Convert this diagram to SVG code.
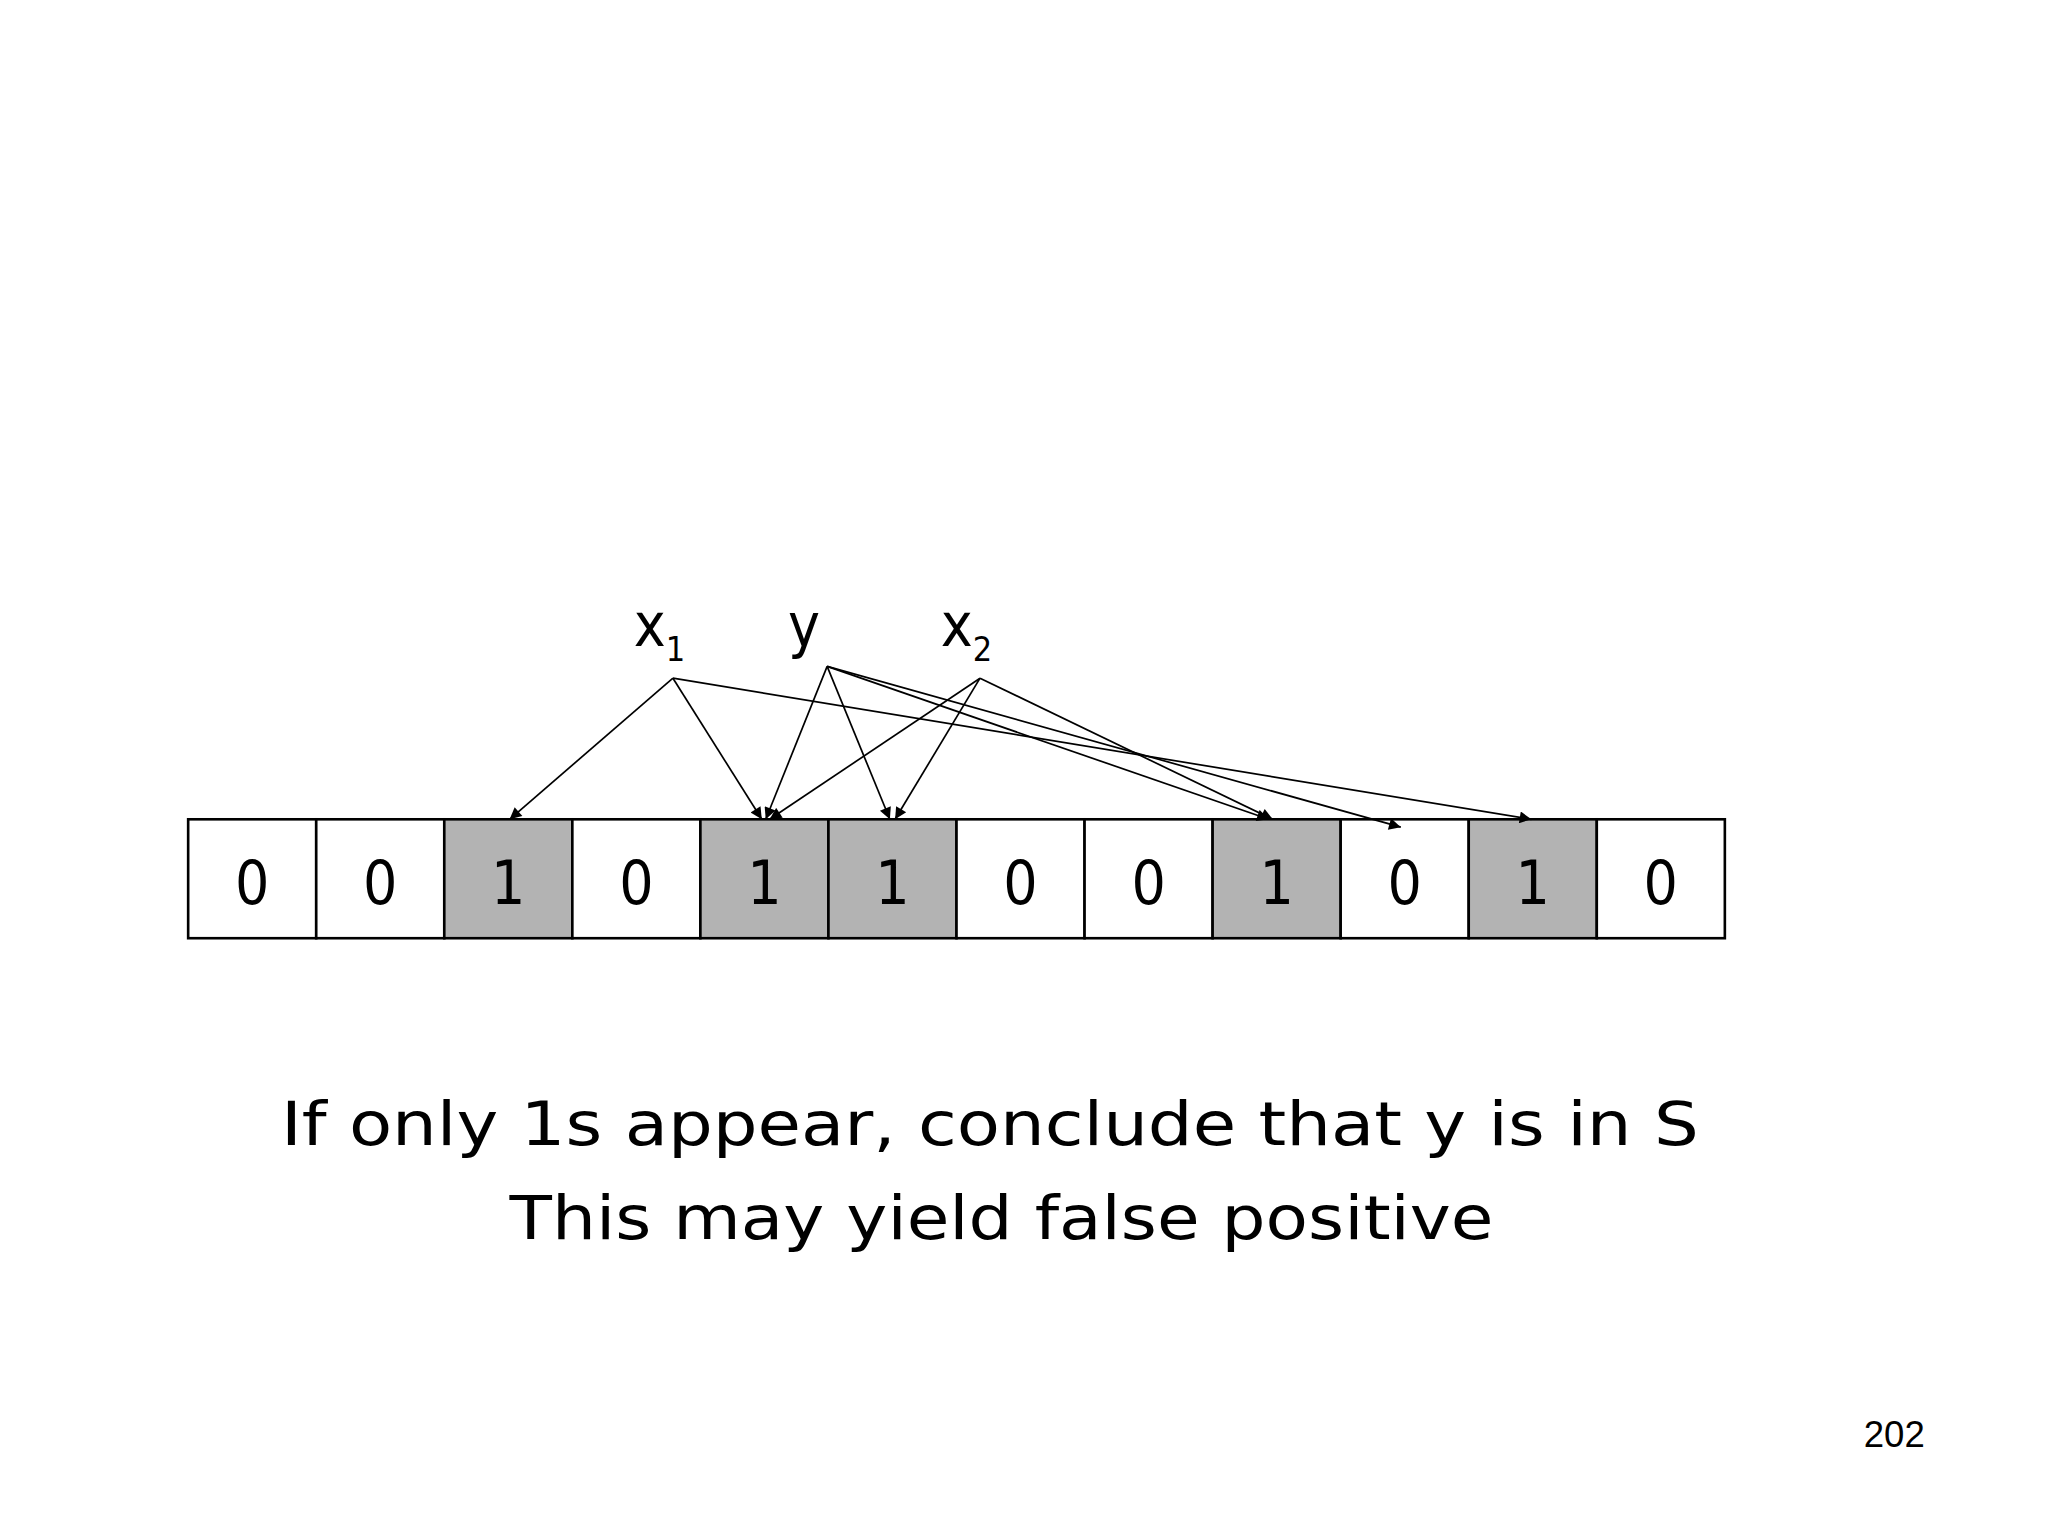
<svg xmlns="http://www.w3.org/2000/svg" width="2048" height="1536" viewBox="0 0 2048 1536">
<defs>
<marker id="ah" viewBox="0 0 10 10" refX="10" refY="5" markerWidth="11" markerHeight="9" orient="auto" markerUnits="userSpaceOnUse"><path d="M0,0 L10,5 L0,10 z" fill="#000"/></marker>
<style>
.c{stroke:#000;stroke-width:2;fill:#fff}
.g{fill:#b3b3b3}
.t{font-family:"DejaVu Sans Condensed","DejaVu Sans",Verdana,sans-serif;font-size:46px;text-anchor:middle}
.l{font-family:"DejaVu Sans Condensed","DejaVu Sans",Verdana,sans-serif;font-size:46px}
.s{font-family:"DejaVu Sans Condensed","DejaVu Sans",Verdana,sans-serif;font-size:26px}
.e{stroke:#000;stroke-width:1.3;fill:none;marker-end:url(#ah)}
</style>
</defs>
<rect width="2048" height="1536" fill="#fff"/>
<g transform="scale(1.3067)">
<g id="cells">
<g id="c0"><rect class="c" x="144" y="627" width="98" height="91"/><text class="t" x="193" y="692">0</text></g>
<g id="c1"><rect class="c" x="242" y="627" width="98" height="91"/><text class="t" x="291" y="692">0</text></g>
<g id="c2"><rect class="c g" x="340" y="627" width="98" height="91"/><text class="t" x="389" y="692">1</text></g>
<g id="c3"><rect class="c" x="438" y="627" width="98" height="91"/><text class="t" x="487" y="692">0</text></g>
<g id="c4"><rect class="c g" x="536" y="627" width="98" height="91"/><text class="t" x="585" y="692">1</text></g>
<g id="c5"><rect class="c g" x="634" y="627" width="98" height="91"/><text class="t" x="683" y="692">1</text></g>
<g id="c6"><rect class="c" x="732" y="627" width="98" height="91"/><text class="t" x="781" y="692">0</text></g>
<g id="c7"><rect class="c" x="830" y="627" width="98" height="91"/><text class="t" x="879" y="692">0</text></g>
<g id="c8"><rect class="c g" x="928" y="627" width="98" height="91"/><text class="t" x="977" y="692">1</text></g>
<g id="c9"><rect class="c" x="1026" y="627" width="98" height="91"/><text class="t" x="1075" y="692">0</text></g>
<g id="c10"><rect class="c g" x="1124" y="627" width="98" height="91"/><text class="t" x="1173" y="692">1</text></g>
<g id="c11"><rect class="c" x="1222" y="627" width="98" height="91"/><text class="t" x="1271" y="692">0</text></g>
</g>
<g id="x1"><text class="l" x="485" y="494">x<tspan class="s" dy="12">1</tspan></text></g>
<g id="y"><text class="l" x="603" y="494">y</text></g>
<g id="x2"><text class="l" x="720" y="494">x<tspan class="s" dy="12">2</tspan></text></g>
<g id="connectors">
<line class="e" x1="515" y1="519" x2="390" y2="627"/>
<line class="e" x1="515" y1="519" x2="583" y2="627"/>
<line class="e" x1="515" y1="519" x2="1172" y2="627"/>
<line class="e" x1="633" y1="510" x2="586" y2="627"/>
<line class="e" x1="633" y1="510" x2="681" y2="627"/>
<line class="e" x1="633" y1="510" x2="971" y2="627"/>
<line class="e" x1="633" y1="510" x2="1072" y2="633"/>
<line class="e" x1="750" y1="519" x2="589" y2="627"/>
<line class="e" x1="750" y1="519" x2="685" y2="627"/>
<line class="e" x1="750" y1="519" x2="974" y2="627"/>
</g>
<text class="l" x="215" y="876" font-size="58" textLength="1085" lengthAdjust="spacingAndGlyphs">If only 1s appear, conclude that y is in S</text>
<text class="l" x="390" y="948" font-size="58" textLength="753" lengthAdjust="spacingAndGlyphs">This may yield false positive</text>
<text x="1473" y="1107" font-family="Liberation Sans,Arial,sans-serif" font-size="28" text-anchor="end">202</text>
</g>
</svg>
